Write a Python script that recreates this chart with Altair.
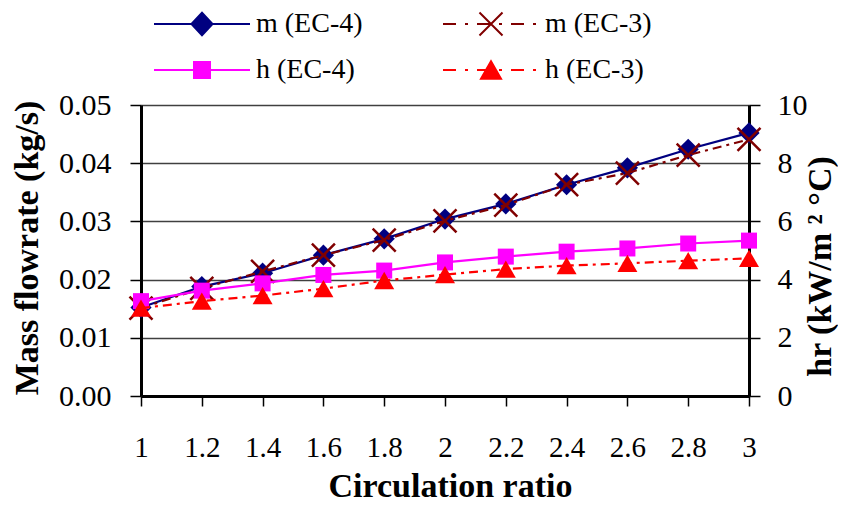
import altair as alt
import pandas as pd

# ---------------- data ----------------
ratio = [1.0, 1.2, 1.4, 1.6, 1.8, 2.0, 2.2, 2.4, 2.6, 2.8, 3.0]
m_ec4 = [0.0152, 0.0188, 0.0211, 0.0242, 0.0270, 0.0304, 0.0330, 0.0363, 0.0392, 0.0424, 0.0452]
m_ec3 = [0.0151, 0.0185, 0.0214, 0.0242, 0.0268, 0.0301, 0.0328, 0.0363, 0.0383, 0.0414, 0.0441]
h_ec4 = [3.26, 3.62, 3.87, 4.16, 4.31, 4.59, 4.79, 4.96, 5.07, 5.24, 5.34]
h_ec3 = [3.02, 3.26, 3.45, 3.69, 3.97, 4.17, 4.36, 4.48, 4.56, 4.65, 4.73]
# legend order (column-major fill of a 2-column grid)
series_names = ["m (EC-4)", "h (EC-4)", "m (EC-3)", "h (EC-3)"]
x_ticks = [1.0, 1.2, 1.4, 1.6, 1.8, 2.0, 2.2, 2.4, 2.6, 2.8, 3.0]
y_left_ticks = [0.0, 0.01, 0.02, 0.03, 0.04, 0.05]
y_right_ticks = [0, 2, 4, 6, 8, 10]

df = pd.DataFrame({"ratio": ratio, "m_ec4": m_ec4, "m_ec3": m_ec3,
                   "h_ec4": h_ec4, "h_ec3": h_ec3})
legend_df = pd.DataFrame({"series": series_names})

# ---------------- style ----------------
FONT = "Liberation Serif"
NAVY, DARKRED, MAGENTA, RED = "#000080", "#800000", "#FF00FF", "#FF0000"
DASH = [9, 5, 3, 5]
X_PATH = "M-1,-1L1,1M-1,1L1,-1"

# legend symbols: line + marker drawn as one custom path (unit = 48 px)
UNIT = 48.0


def dash_path(pattern):
    segs, pos, i = [], -1.0, 0
    while pos < 1.0:
        nxt = min(pos + pattern[i % len(pattern)] / UNIT, 1.0)
        if i % 2 == 0:
            segs.append(f"M{pos:.3f},0L{nxt:.3f},0")
        pos, i = nxt, i + 1
    return "".join(segs)


leg_dash = [13, 9, 3, 9]
path_m4 = "M-1,0L1,0M-0.219,0L0,-0.234L0.219,0L0,0.234Z"
path_m3 = dash_path(leg_dash) + "M-0.24,-0.24L0.24,0.24M-0.24,0.24L0.24,-0.24"
path_h4 = "M-1,0L1,0M-0.167,-0.167L0.167,-0.167L0.167,0.167L-0.167,0.167Z"
path_h3 = dash_path(leg_dash) + "M0,-0.18L-0.208,0.18L0.208,0.18Z"
legend_paths = [path_m4, path_h4, path_m3, path_h3]
legend_fill = [NAVY, MAGENTA, "transparent", RED]
legend_stroke = [NAVY, MAGENTA, DARKRED, RED]

x_axis = alt.Axis(values=x_ticks, format=".1~f", title="Circulation ratio", grid=False,
                  domainColor="black", domainWidth=3, tickColor="black", tickWidth=1.5,
                  tickSize=10, labelFont=FONT, labelFontSize=29, labelColor="black",
                  labelPadding=27, labelFlush=False, labelOverlap=False,
                  titleFont=FONT, titleFontSize=34, titleFontWeight="bold", titleColor="black",
                  titleX=309, titleY=90.5, titleAlign="center", titleBaseline="middle", titleAngle=0)

y_left_axis = alt.Axis(values=y_left_ticks, format=".2f", title="Mass flowrate (kg/s)",
                       grid=True, gridColor="#404040", gridWidth=1.5,
                       domainColor="black", domainWidth=3, tickColor="black", tickWidth=1.5,
                       tickSize=11, labelFont=FONT, labelFontSize=30, labelColor="black",
                       labelPadding=19, labelFlush=False, labelOverlap=False,
                       titleFont=FONT, titleFontSize=34, titleFontWeight="bold", titleColor="black",
                       titleAngle=270, titleX=-114, titleY=142.5, titleAlign="center",
                       titleBaseline="middle")

y_right_axis = alt.Axis(values=y_right_ticks, format="d", orient="right",
                        title="hr (kW/m \u00b2 \u00b0C)", grid=False,
                        domainColor="black", domainWidth=3, tickColor="black", tickWidth=1.5,
                        tickSize=11, labelFont=FONT, labelFontSize=30, labelColor="black",
                        labelPadding=17, labelFlush=False, labelOverlap=False,
                        titleFont=FONT, titleFontSize=34, titleFontWeight="bold", titleColor="black",
                        titleAngle=270, titleX=71, titleY=161, titleAlign="center",
                        titleBaseline="middle")

x_enc = alt.X("ratio:Q", scale=alt.Scale(domain=[1, 3], nice=False, zero=False), axis=x_axis)
left_scale = alt.Scale(domain=[0, 0.05], nice=False, zero=True)
right_scale = alt.Scale(domain=[0, 10], nice=False, zero=True)

base = alt.Chart(df)


def line_layer(field, color, scale, axis, dash=None):
    kw = dict(color=color, strokeWidth=2.2)
    if dash:
        kw["strokeDash"] = dash
    return base.mark_line(**kw).encode(
        x=x_enc, y=alt.Y(f"{field}:Q", scale=scale, axis=axis))


def point_layer(field, scale, axis, **mk):
    return base.mark_point(opacity=1, **mk).encode(
        x=x_enc, y=alt.Y(f"{field}:Q", scale=scale, axis=axis))


leg = alt.Legend(orient="none", legendX=12, legendY=-96, columns=2, title=None,
                 symbolSize=9216, symbolStrokeWidth=2, symbolOpacity=1, clipHeight=30,
                 rowPadding=16, columnPadding=79, labelOffset=5, labelFont=FONT,
                 labelFontSize=28, labelColor="black", labelLimit=400, padding=0)

legend_layer = alt.Chart(legend_df).mark_point(opacity=1, filled=True).encode(
    fill=alt.Fill("series:N", scale=alt.Scale(domain=series_names, range=legend_fill), legend=leg),
    stroke=alt.Stroke("series:N", scale=alt.Scale(domain=series_names, range=legend_stroke), legend=leg),
    shape=alt.Shape("series:N", scale=alt.Scale(domain=series_names, range=legend_paths), legend=leg),
).transform_filter("false")

left = alt.layer(
    line_layer("m_ec4", NAVY, left_scale, y_left_axis),
    point_layer("m_ec4", left_scale, y_left_axis, shape="diamond", filled=True, size=450, color=NAVY),
    line_layer("m_ec3", DARKRED, left_scale, y_left_axis, DASH),
    point_layer("m_ec3", left_scale, y_left_axis, shape=X_PATH, filled=False, size=529,
                color=DARKRED, strokeWidth=2.5),
    legend_layer,
)

right = alt.layer(
    line_layer("h_ec4", MAGENTA, right_scale, y_right_axis),
    point_layer("h_ec4", right_scale, y_right_axis, shape="square", filled=True, size=256, color=MAGENTA),
    line_layer("h_ec3", RED, right_scale, y_right_axis, DASH),
    point_layer("h_ec3", right_scale, y_right_axis, shape="triangle-up", filled=True, size=400, color=RED),
)

chart = alt.layer(left, right).resolve_scale(y="independent").properties(
    width=608, height=291, autosize="none",
    padding={"left": 133, "top": 97, "right": 89, "bottom": 102},
    background="white",
).configure_view(stroke=None).configure(font=FONT)

chart.save("out.html", embed_options={"renderer": "svg", "actions": False})
